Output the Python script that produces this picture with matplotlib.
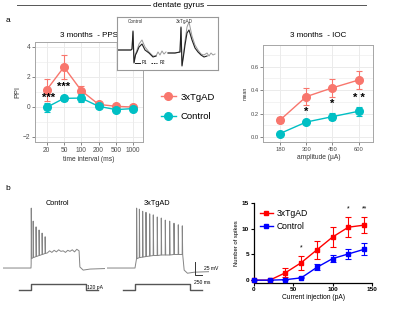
import numpy as np
import matplotlib
matplotlib.use("Agg")
import matplotlib.pyplot as plt
from matplotlib.lines import Line2D

plt.rcParams['font.family'] = ['Liberation Sans', 'DejaVu Sans']

# ---------------- data ----------------
pps_intervals = ["20", "50", "100", "200", "500", "1000"]
pps_tg = [1.11, 2.64, 1.07, 0.15, 0.02, -0.03]
pps_tg_err = [0.72, 0.8, 0.3, 0.08, 0.08, 0.08]
pps_ctrl = [-0.05, 0.55, 0.57, 0.02, -0.2, -0.13]
pps_ctrl_err = [0.32, 0.15, 0.28, 0.1, 0.1, 0.1]
pps_yticks = [-2, 0, 2, 4]

ioc_amps = ["180", "300", "450", "600"]
ioc_tg = [0.145, 0.345, 0.42, 0.487]
ioc_tg_err = [0.023, 0.07, 0.078, 0.078]
ioc_ctrl = [0.03, 0.128, 0.174, 0.22]
ioc_ctrl_err = [0.005, 0.012, 0.03, 0.04]
ioc_yticks = [0.0, 0.2, 0.4, 0.6]

spk_current = [0, 20, 40, 60, 80, 100, 120, 140]
spk_tg = [0, 0, 1.45, 3.4, 5.9, 8.4, 10.3, 10.7]
spk_tg_err = [0, 0, 0.9, 1.35, 1.75, 1.9, 1.9, 1.5]
spk_ctrl = [0, 0, 0.1, 0.45, 2.5, 4.2, 5.1, 6.0]
spk_ctrl_err = [0, 0, 0.05, 0.1, 0.6, 0.7, 1.0, 1.2]

# PPS inset traces (ms, mV-like units)
ins_ctrl_t = [0, 8, 14, 15, 16, 17, 18.5, 20, 22, 25, 28, 32, 36, 39]
ins_ctrl_p1 = [0, 0, 0, 0.1, 1.9, -1.3, -0.5, -0.2, 0.3, 0.6, 0.0, -0.3, -0.7, -0.6]
ins_ctrl_t2 = [0, 8, 14, 15, 16, 17, 18.5, 20, 22, 25, 28, 32, 36, 39, 41, 43, 45, 47, 49]
ins_ctrl_p2 = [0, 0, 0, 0.1, 1.8, -1.2, -0.4, 0.0, 0.6, 1.0, 0.3, -0.2, -0.6, -0.6, -0.2, -0.5, -0.1, -0.4, -0.2]
ins_tg_t = [51, 58, 63, 64, 65, 66.5, 68, 70, 72, 75, 78, 81, 84, 87, 90]
ins_tg_p1 = [-0.3, -0.3, -0.2, 2.3, -1.6, -0.6, 0.5, 1.7, 2.0, 1.0, 0.2, -0.2, -0.5, -0.7, -0.6]
ins_tg_t2 = [51, 58, 63, 64, 65, 66.5, 68, 70, 72, 75, 78, 81, 84, 87, 90, 92, 94, 96, 98]
ins_tg_p2 = [-0.3, -0.3, -0.2, 2.2, -1.5, -0.4, 0.9, 2.3, 2.8, 1.4, 0.5, 0.0, -0.4, -0.5, -0.3, -0.6, -0.3, -0.5, -0.4]

# whole-cell traces (ms, mV)
ctrl_spike_t = [10, 80, 185, 295, 405, 515]
ctrl_spike_peak = [45, 20, 9, 3, -3, -10]
ctrl_trough = [-52, -50, -48, -46, -44, -42]
ctrl_plateau = [-41, -37, -40, -36, -39, -35, -38, -37, -40, -36, -38, -35, -39, -34, -37]
tg_spike_t = [60, 160, 280, 400, 535, 666, 811, 957, 1103, 1263, 1420, 1576, 1722]
tg_spike_peak = [45, 43, 39, 37, 34, 32, 28, 26, 22, 20, 16, 13, 11]
tg_trough = [-52, -50, -49, -48, -47, -46, -46, -45, -45, -45, -44, -44, -44]
v_rest = -70
step_t = [-440, 0, 0, 2000, 2000, 2440]
step_i = [0, 0, 120, 120, 0, 0]

# ---------------- figure ----------------
W, H = 400, 323
fig = plt.figure(figsize=(W / 100, H / 100), dpi=100)


def ax_px(x0, y0, x1, y1, **kw):
    return fig.add_axes([x0 / W, 1 - y1 / H, (x1 - x0) / W, (y1 - y0) / H], **kw)


RED = "#F8766D"
CYAN = "#00BFC4"
GRID = "#EBEBEB"
EDGE = "#A6A6A6"


def gg_style(ax, minor_y):
    ax.set_facecolor("white")
    for s in ax.spines.values():
        s.set_color(EDGE)
        s.set_linewidth(0.7)
    ax.grid(True, color=GRID, linewidth=0.7)
    ax.set_axisbelow(True)
    for m in minor_y:
        ax.axhline(m, color=GRID, linewidth=0.4, zorder=0)
    ax.tick_params(length=2, width=0.5, color="#555555", labelsize=4.8,
                   labelcolor="#4D4D4D", pad=1.5)


# ---- PPS ----
ax1 = ax_px(35, 42.3, 143.3, 141.7)
x1 = np.arange(len(pps_intervals))
gg_style(ax1, [-1, 1, 3])
l_tg, = ax1.plot(x1, pps_tg, color=RED, marker="o", ms=5.5, lw=1.0, zorder=3)
ax1.errorbar(x1, pps_tg, yerr=pps_tg_err, fmt="none", ecolor=RED, elinewidth=0.8,
             capsize=2.5, capthick=0.8, zorder=3)
l_ct, = ax1.plot(x1, pps_ctrl, color=CYAN, marker="o", ms=5.5, lw=1.0, zorder=3)
ax1.errorbar(x1, pps_ctrl, yerr=pps_ctrl_err, fmt="none", ecolor=CYAN, elinewidth=0.8,
             capsize=2.5, capthick=0.8, zorder=3)
ax1.set_xlim(-0.67, 5.58)
ax1.set_ylim(-2.34, 4.29)
ax1.set_xticks(x1)
ax1.set_xticklabels(pps_intervals)
ax1.set_yticks(pps_yticks)
ax1.text(0.1, 0.6, "***", ha="center", va="center", fontsize=8, fontweight="bold")
ax1.text(1.0, 1.3, "***", ha="center", va="center", fontsize=8, fontweight="bold")
ax1.set_title("3 months  - PPS", fontsize=5.8, pad=4)
ax1.set_xlabel("time interval (ms)", fontsize=4.8, labelpad=1.5, color="#333333")
ax1.set_ylabel("PPI", fontsize=5.3, labelpad=1, color="#333333")

fig.legend([l_tg, l_ct], ["3xTgAD", "Control"], loc="upper left",
           bbox_to_anchor=(152 / W, 1 - 84 / H), frameon=False, fontsize=6.8,
           handlelength=1.6, labelspacing=1.1, handletextpad=0.5)

# ---- inset traces ----
axi = ax_px(117, 17, 218, 69.5)
axi.set_zorder(5)
axi.set_facecolor("white")
for s in axi.spines.values():
    s.set_color("#999999")
    s.set_linewidth(0.8)
axi.set_xticks([])
axi.set_yticks([])
axi.set_xlim(0, 101)
axi.set_ylim(-1.95, 3.3)
axi.plot(ins_ctrl_t2, ins_ctrl_p2, color="#9A9A9A", lw=0.7)
axi.plot(ins_ctrl_t, ins_ctrl_p1, color="#222222", lw=0.8)
axi.plot(ins_tg_t2, ins_tg_p2, color="#9A9A9A", lw=0.7)
axi.plot(ins_tg_t, ins_tg_p1, color="#222222", lw=0.8)
axi.text(18, 2.85, "Control", fontsize=3.3, ha="center", va="center", color="#333333")
axi.text(67, 2.85, "3xTgAD", fontsize=3.3, ha="center", va="center", color="#333333")
axi.plot([18, 23], [-1.3, -1.3], color="#222222", lw=0.7)
axi.text(25, -1.3, "P1", fontsize=3.3, va="center")
axi.plot([34, 40], [-1.3, -1.3], color="#222222", lw=0.7, ls=(0, (1.5, 1)))
axi.text(43, -1.3, "P2", fontsize=3.3, va="center")

# ---- IOC ----
ax2 = ax_px(263.3, 45, 373.3, 141.7)
x2 = np.arange(len(ioc_amps))
gg_style(ax2, [0.1, 0.3, 0.5, 0.7])
ax2.plot(x2, ioc_tg, color=RED, marker="o", ms=5.5, lw=1.0, zorder=3)
ax2.errorbar(x2, ioc_tg, yerr=ioc_tg_err, fmt="none", ecolor=RED, elinewidth=0.8,
             capsize=2.5, capthick=0.8, zorder=3)
ax2.plot(x2, ioc_ctrl, color=CYAN, marker="o", ms=5.5, lw=1.0, zorder=3)
ax2.errorbar(x2, ioc_ctrl, yerr=ioc_ctrl_err, fmt="none", ecolor=CYAN, elinewidth=0.8,
             capsize=2.5, capthick=0.8, zorder=3)
ax2.set_xlim(-0.64, 3.56)
ax2.set_ylim(-0.04, 0.786)
ax2.set_xticks(x2)
ax2.set_xticklabels(ioc_amps)
ax2.set_yticks(ioc_yticks)
ax2.set_yticklabels(["0.0", "0.2", "0.4", "0.6"])
ax2.tick_params(labelsize=4.2)
ax2.text(1, 0.215, "*", ha="center", va="center", fontsize=8, fontweight="bold")
ax2.text(2, 0.28, "*", ha="center", va="center", fontsize=8, fontweight="bold")
ax2.text(3, 0.33, "* *", ha="center", va="center", fontsize=8, fontweight="bold")
ax2.set_title("3 months  - IOC", fontsize=5.8, pad=6)
ax2.set_xlabel("amplitude (\u00b5A)", fontsize=4.8, labelpad=2, color="#333333")
ax2.set_ylabel("mean", fontsize=3.8, labelpad=2, color="#333333")


# ---- whole-cell traces ----
def build_trace(spk_t, spk_p, trough, plateau, t_end, v_after):
    t = [-1020, 0]
    v = [v_rest, v_rest]
    for st, sp, tr in zip(spk_t, spk_p, trough):
        t += [st - 4, st, st + 14]
        v += [tr if st > 20 else v_rest + 8, sp, tr]
    if plateau:
        pt = np.linspace(spk_t[-1] + 80, t_end, len(plateau))
        t += list(pt)
        v += plateau
    t += [t_end + 30, t_end + 150, t_end + 400, 2700]
    v += [v_after + 6, v_after, v_after + 2, v_after + 3]
    return t, v


XL = (-1019, 2694)
YL = (-93, 51)
ct_t, ct_v = build_trace(ctrl_spike_t, ctrl_spike_peak, ctrl_trough, ctrl_plateau, 1750, -74)
tg_t, tg_v = build_trace(tg_spike_t, tg_spike_peak, tg_trough, [], 1760, -80)

axc = ax_px(3, 205, 105, 280)
axc.plot(ct_t, ct_v, color="#858585", lw=0.7)
axt = ax_px(107, 205, 209, 280)
axt.plot(tg_t, tg_v, color="#858585", lw=0.7)
for a in (axc, axt):
    a.set_xlim(*XL)
    a.set_ylim(*YL)
    a.axis("off")
axc.text(950, 48, "Control", fontsize=5.3, ha="center", va="bottom")
axt.text(800, 48, "3xTgAD", fontsize=5.3, ha="center", va="bottom")
# scale bar 25 mV / 250 ms
sb_t0, sb_v0 = 2190, -83
axt.plot([sb_t0, sb_t0, sb_t0 + 250], [sb_v0 + 25, sb_v0, sb_v0], color="#333333",
         lw=0.7, clip_on=False)
axt.text(sb_t0 + 330, sb_v0 + 12, "25 mV", fontsize=3.6, va="center")
axt.text(sb_t0 - 40, sb_v0 - 14, "250 ms", fontsize=3.6, va="center")

axcs = ax_px(3, 280, 105, 296)
axcs.plot(step_t, step_i, color="#555555", lw=1.0)
axts = ax_px(107, 280, 209, 296)
axts.plot(step_t, step_i, color="#555555", lw=1.0)
for a in (axcs, axts):
    a.set_xlim(*XL)
    a.set_ylim(-120, 200)
    a.axis("off")
axcs.text(2030, 60, "120 pA", fontsize=3.6, va="center")

# ---- spikes vs current ----
ax3 = ax_px(254, 203, 372, 282.5)
ax3.errorbar(spk_current, spk_tg, yerr=spk_tg_err, color="#FF0000", marker="s", ms=3,
             lw=1.0, elinewidth=0.8, capsize=2, capthick=0.8, clip_on=False, zorder=3)
ax3.errorbar(spk_current, spk_ctrl, yerr=spk_ctrl_err, color="#0000FF", marker="s", ms=3,
             lw=1.0, elinewidth=0.8, capsize=2, capthick=0.8, clip_on=False, zorder=3)
ax3.set_xlim(0, 150)
ax3.set_ylim(-0.45, 15)
ax3.set_xticks([0, 50, 100, 150])
ax3.set_yticks([0, 5, 10, 15])
for s in ("top", "right"):
    ax3.spines[s].set_visible(False)
ax3.spines["left"].set_bounds(0, 15)
for s in ("left", "bottom"):
    ax3.spines[s].set_linewidth(0.9)
ax3.tick_params(length=2, width=0.8, labelsize=4.6, pad=1.5)
for lab in ax3.get_xticklabels() + ax3.get_yticklabels():
    lab.set_fontweight("bold")
ax3.text(60, 6.2, "*", ha="center", va="center", fontsize=5)
ax3.text(120, 13.9, "*", ha="center", va="center", fontsize=5)
ax3.text(140, 13.9, "**", ha="center", va="center", fontsize=5)
ax3.set_xlabel("Current injection (pA)", fontsize=4.8, labelpad=1.5)
ax3.set_ylabel("Number of spikes", fontsize=4.2, labelpad=2)
hh = [Line2D([], [], color="#FF0000", marker="s", ms=3, lw=1.0),
      Line2D([], [], color="#0000FF", marker="s", ms=3, lw=1.0)]
ax3.legend(hh, ["3xTgAD", "Control"], loc="upper left", bbox_to_anchor=(0.0, 1.0),
           frameon=False, fontsize=6.2, handlelength=1.5, handletextpad=0.4,
           labelspacing=0.45, borderaxespad=0.3)

# ---- overlay decorations ----
axo = fig.add_axes([0, 0, 1, 1], zorder=10)
axo.set_xlim(0, W)
axo.set_ylim(H, 0)
axo.axis("off")
axo.patch.set_alpha(0)
axo.plot([17, 150], [5, 5], color="#555555", lw=0.7)
axo.plot([207, 366], [5, 5], color="#555555", lw=0.7)
axo.text(178.5, 5.5, "dentate gyrus", fontsize=6, ha="center", va="center")
axo.text(8, 20, "a", fontsize=6, ha="center", va="center")
axo.text(8, 188, "b", fontsize=6, ha="center", va="center")

fig.savefig("out.png", dpi=100)
